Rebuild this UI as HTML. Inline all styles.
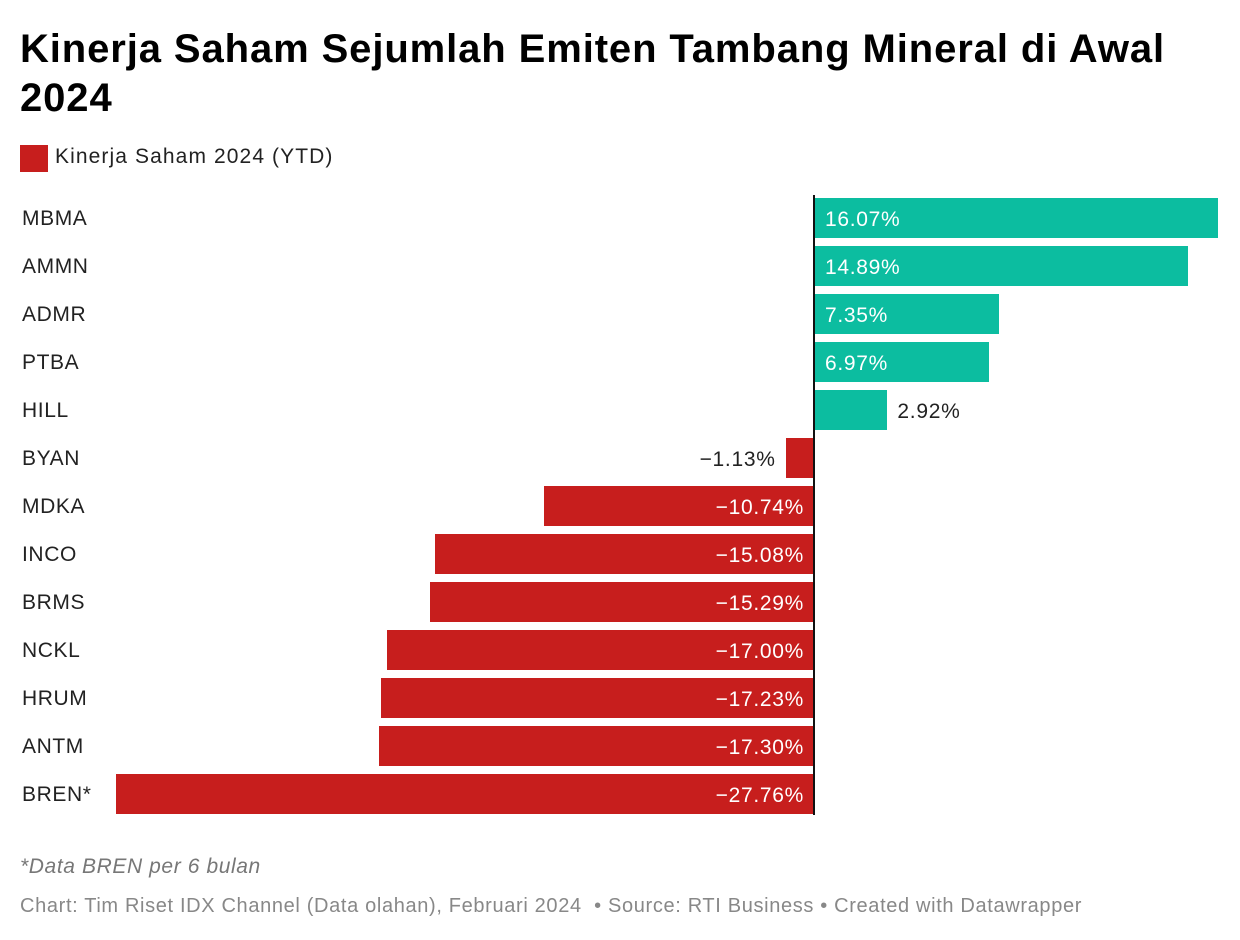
<!DOCTYPE html>
<html><head><meta charset="utf-8"><style>
body{margin:0;width:1240px;height:940px;background:#fff;font-family:"Liberation Sans",Arial,sans-serif;position:relative;overflow:hidden}
.a{position:absolute;white-space:nowrap}
.t{left:20px;font-size:40px;font-weight:bold;color:#000;line-height:48px;letter-spacing:0.9px}
.l{left:22px;font-size:21px;color:#222;letter-spacing:0.6px}
.bar{position:absolute;height:40px}
.v{font-size:21px;line-height:40px;letter-spacing:0.7px}
</style></head><body>
<div class="a t" style="top:25px">Kinerja Saham Sejumlah Emiten Tambang Mineral di Awal</div>
<div class="a t" style="top:74px">2024</div>
<div class="a" style="left:20px;top:145px;width:28px;height:27px;background:#c71e1d"></div>
<div class="a" style="left:55px;top:145px;font-size:21px;color:#222;letter-spacing:1.1px">Kinerja Saham 2024 (YTD)</div>
<div id="c"></div>
<div class="a" style="left:813px;top:195px;width:2px;height:620px;background:#111"></div>
<div class="a" style="left:20px;top:855px;font-size:21px;font-style:italic;color:#777;letter-spacing:0.6px">*Data BREN per 6 bulan</div>
<div class="a" style="left:20px;top:895px;font-size:20px;color:#888;letter-spacing:0.65px">Chart: Tim Riset IDX Channel (Data olahan), Februari 2024 &nbsp;• Source: RTI Business • Created with Datawrapper</div>
<script>
var d=[["MBMA",16.07],["AMMN",14.89],["ADMR",7.35],["PTBA",6.97],["HILL",2.92],["BYAN",-1.13],["MDKA",-10.74],["INCO",-15.08],["BRMS",-15.29],["NCKL",-17.00],["HRUM",-17.23],["ANTM",-17.30],["BREN*",-27.76]];
var h="",z=814,s=25.14;
d.forEach(function(r,i){var y=198+i*48,w=Math.abs(r[1])*s,lab=(r[1]<0?"−":"")+Math.abs(r[1]).toFixed(2)+"%";
h+='<div class="a l" style="top:'+(y+9)+'px">'+r[0]+'</div>';
var ty=y+2;
if(r[1]>0){h+='<div class="bar" style="left:'+z+'px;top:'+y+'px;width:'+w+'px;background:#0cbda0"></div>';
if(w>100)h+='<div class="a v" style="left:825px;top:'+ty+'px;color:#fff">'+lab+'</div>';
else h+='<div class="a v" style="left:'+(z+w+10)+'px;top:'+ty+'px;color:#222">'+lab+'</div>';}
else{h+='<div class="bar" style="left:'+(z-w)+'px;top:'+y+'px;width:'+w+'px;background:#c71e1d"></div>';
if(w>100)h+='<div class="a v" style="right:'+(1240-804)+'px;top:'+ty+'px;color:#fff">'+lab+'</div>';
else h+='<div class="a v" style="right:'+(1240-(z-w)+10)+'px;top:'+ty+'px;color:#222">'+lab+'</div>';}
});
document.getElementById("c").innerHTML=h;
</script>
</body></html>
